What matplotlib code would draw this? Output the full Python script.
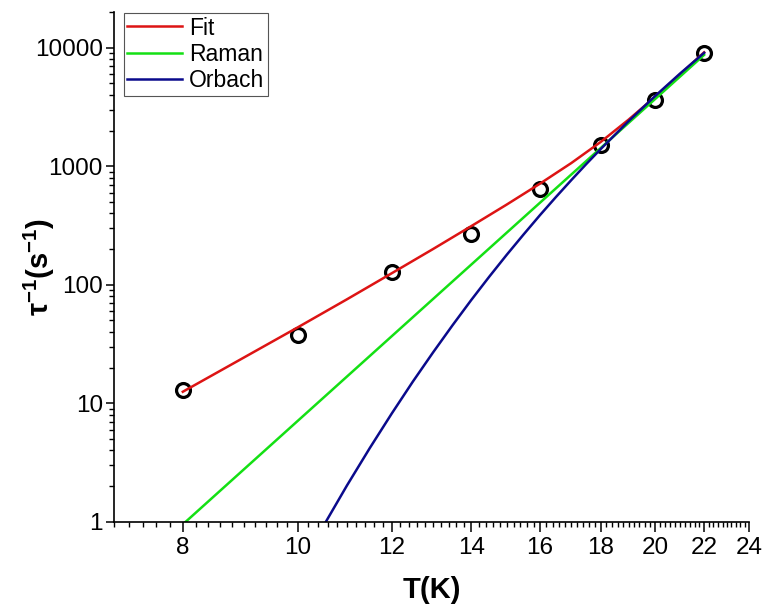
import matplotlib
matplotlib.use('Agg')
import matplotlib.pyplot as plt
from matplotlib.ticker import FixedLocator, MultipleLocator, LogLocator, NullFormatter, FuncFormatter

plt.rcParams['font.family'] = ['Liberation Sans', 'DejaVu Sans']
plt.rcParams['mathtext.fontset'] = 'custom'
plt.rcParams['mathtext.rm'] = 'Liberation Sans'
plt.rcParams['mathtext.bf'] = 'Liberation Sans:bold'
plt.rcParams['mathtext.it'] = 'Liberation Sans:italic'

# measured relaxation rates
temp_pts = [8, 10, 12, 14, 16, 18, 20, 22]
rate_pts = [12.9, 37.6, 127, 270, 637, 1525, 3650, 9020]

# curves
fit_T = [8, 9, 10, 11, 12, 13, 14, 15, 16, 17, 18, 19, 20, 21, 22]
fit_rate = [12.5, 24.2, 43.7, 75.3, 125, 200, 312, 475, 713, 1063, 1603, 2472, 3844, 5962, 9146]

raman_T = [8, 22]
raman_rate = [0.95, 8700]

orbach_T = [10.5, 11, 11.5, 12, 12.5, 13, 13.5, 14, 14.5, 15, 15.5, 16, 16.5, 17, 17.5, 18, 19, 20, 21, 22]
orbach_rate = [0.906, 2.02, 4.19, 8.19, 15.2, 26.8, 45.4, 74.2, 117, 179, 266, 387, 549, 763, 1042,
               1397, 2399, 3905, 6063, 9050]

x_ticks = [8, 10, 12, 14, 16, 18, 20, 22, 24]

fig = plt.figure(figsize=(7.63, 6.09), dpi=100)
ax = fig.add_axes([0.1494, 0.1433, 0.8322, 0.8369])
ax.set_xscale('log')
ax.set_yscale('log')

ax.plot(temp_pts, rate_pts, 'o', mfc='none', mec='black', ms=10, mew=2.3, zorder=1.5, label='_nolegend_')
ax.plot(fit_T, fit_rate, color='#dd1414', lw=1.8, label='Fit', zorder=2)
ax.plot(raman_T, raman_rate, color='#14e014', lw=1.8, label='Raman', zorder=2.1)
ax.plot(orbach_T, orbach_rate, color='#0a0a8c', lw=1.8, label='Orbach', zorder=2.2)

ax.set_xlim(7, 24)
ax.set_ylim(1, 20000)

ax.xaxis.set_major_locator(FixedLocator(x_ticks))
ax.xaxis.set_major_formatter(FuncFormatter(lambda v, p: '{:g}'.format(v)))
ax.xaxis.set_minor_locator(MultipleLocator(0.2))
ax.xaxis.set_minor_formatter(NullFormatter())
ax.yaxis.set_major_locator(LogLocator(base=10))
ax.yaxis.set_major_formatter(FuncFormatter(lambda v, p: '{:g}'.format(v)))
ax.yaxis.set_minor_locator(LogLocator(base=10, subs=range(2, 10)))
ax.yaxis.set_minor_formatter(NullFormatter())

ax.spines['top'].set_visible(False)
ax.spines['right'].set_visible(False)
for s in ['left', 'bottom']:
    ax.spines[s].set_linewidth(1.2)
ax.tick_params(axis='x', which='major', direction='out', length=7, width=1.1, labelsize=17.5, pad=4)
ax.tick_params(axis='y', which='major', direction='out', length=6, width=1.1, labelsize=17.5, pad=2)
ax.tick_params(which='minor', direction='out', length=3.5, width=1.0)

ax.set_xlabel('T(K)', fontsize=21, fontweight='bold', labelpad=12)
ax.set_ylabel(r'$\mathbf{\tau^{-1}(s^{-1})}$', fontsize=21)
ax.yaxis.set_label_coords(-0.09, 0.5)

leg = ax.legend(loc='upper left', bbox_to_anchor=(0.0157, 0.998), borderaxespad=0,
                fontsize=16.5, fancybox=False, edgecolor='#555555', framealpha=1,
                handlelength=2.4, handletextpad=0.3, labelspacing=0.15, borderpad=0.15)
leg.get_frame().set_linewidth(0.8)

fig.savefig('out.png', dpi=100)
